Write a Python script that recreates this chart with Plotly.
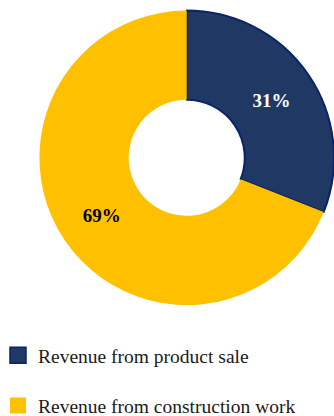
import plotly.graph_objects as go

categories = ["Revenue from product sale", "Revenue from construction work"]
shares = [31, 69]
colors = ["#1F3864", "#FFC000"]
edge_colors = ["#0A2468", "#FFC000"]
label_colors = ["white", "black"]

SERIF = "Liberation Serif, Times New Roman, serif"

fig = go.Figure()
fig.add_trace(go.Pie(
    labels=categories,
    values=shares,
    hole=0.394,
    sort=False,
    direction="clockwise",
    rotation=0,
    domain=dict(x=[0.118, 1.0], y=[0.2666, 0.9748]),
    marker=dict(colors=colors, line=dict(color=edge_colors, width=[2, 0])),
    texttemplate="<b>%{percent:.0%}</b>",
    textposition="inside",
    insidetextorientation="horizontal",
    textfont=dict(family=SERIF, size=19, color=label_colors),
    showlegend=False,
    hoverinfo="label+percent",
))

for name, col, edge in zip(categories, colors, edge_colors):
    fig.add_trace(go.Scatter(
        x=[None], y=[None], mode="markers", name=name,
        legendgroup=name,
        marker=dict(symbol="square", size=16, color=col,
                    line=dict(color=edge, width=1.5 if edge != col else 0)),
        showlegend=True,
    ))

fig.update_layout(
    width=334, height=416,
    margin=dict(l=0, r=0, t=0, b=0, autoexpand=False),
    paper_bgcolor="white", plot_bgcolor="white",
    xaxis=dict(visible=False), yaxis=dict(visible=False),
    legend=dict(
        x=-0.006, xanchor="left",
        y=(416 - 336) / 416, yanchor="top",
        orientation="v",
        tracegroupgap=22,
        font=dict(family=SERIF, size=19.5, color="#1a1a1a"),
        bgcolor="rgba(0,0,0,0)",
        borderwidth=0,
        itemclick=False, itemdoubleclick=False,
    ),
)

fig.write_html("out.html")
